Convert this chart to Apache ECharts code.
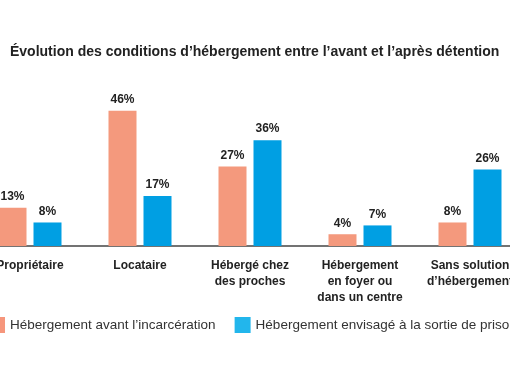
<!DOCTYPE html>
<html><head><meta charset="utf-8">
<script src="https://cdn.jsdelivr.net/npm/echarts@6/dist/echarts.min.js"></script>
<style>
html,body{margin:0;padding:0;width:510px;height:370px;overflow:hidden;background:#fff;position:relative}
#c{position:absolute;left:-25px;top:0;width:550px;height:370px}
</style></head>
<body><div id="c"></div>
<script>
const categories = ['Propriétaire','Locataire','Hébergé chez\ndes proches','Hébergement\nen foyer ou\ndans un centre','Sans solution\nd\u2019hébergement'];
const seriesNames = ['Hébergement avant l\u2019incarcération','Hébergement envisagé à la sortie de prison'];
const avant = [13,46,27,4,8];
const apres = [8,17,36,7,26];
const titleText = 'Évolution des conditions d\u2019hébergement entre l\u2019avant et l\u2019après détention';

const chart = echarts.init(document.getElementById('c'));
const FF = 'Liberation Sans, Arial, sans-serif';
const lbl = {show:true,position:'top',distance:5,formatter:p=>p.value+'%',
  fontFamily:FF,fontWeight:'bold',fontSize:12,color:'#222'};
chart.setOption({
  animation:false,
  title:{text:titleText,left:30,top:40,
    textStyle:{fontFamily:FF,fontWeight:'bold',fontSize:14,color:'#222'}},
  legend:{top:312,left:9,width:700,orient:'horizontal',itemWidth:16,itemHeight:16,itemGap:19,icon:'rect',
    data:[{name:seriesNames[0],itemStyle:{color:'#F6967C'}},{name:seriesNames[1],itemStyle:{color:'#22B6EC'}}],
    textStyle:{fontFamily:FF,fontSize:13.5,color:'#333'}},
  grid:{left:0,right:0,top:99,bottom:124},
  xAxis:{type:'category',data:categories,
    axisLine:{lineStyle:{color:'#444',width:1.5}},axisTick:{show:false},
    axisLabel:{interval:0,margin:12,lineHeight:16,fontFamily:FF,fontWeight:'bold',fontSize:12,color:'#222'}},
  yAxis:{type:'value',min:0,max:50,show:false,splitLine:{show:false}},
  series:[
    {name:seriesNames[0],type:'bar',data:avant,barWidth:28,barGap:'25%',itemStyle:{color:'#F4997D'},label:lbl},
    {name:seriesNames[1],type:'bar',data:apres,barWidth:28,itemStyle:{color:'#009FE3'},label:lbl}
  ]
});
</script></body></html>
